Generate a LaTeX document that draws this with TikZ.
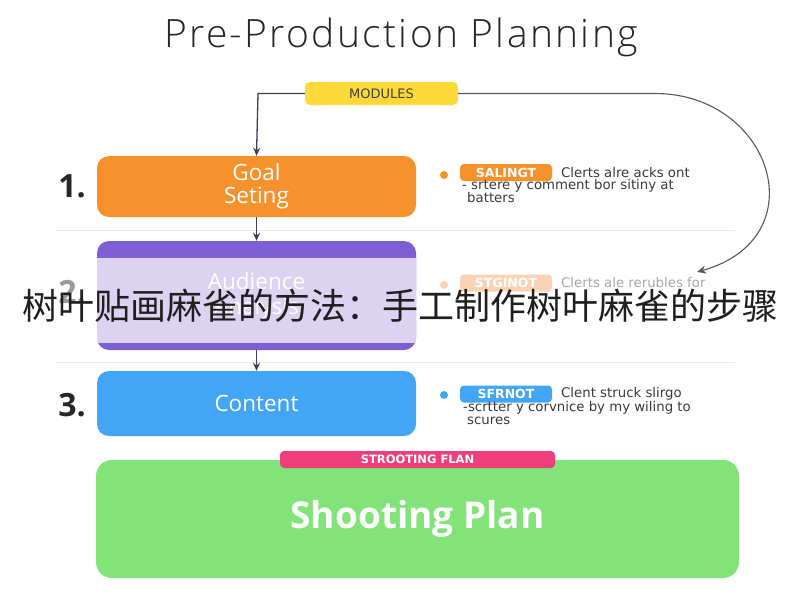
\documentclass[tikz,border=0pt]{standalone}
\usepackage{fontspec}
\setmainfont{Open Sans}
\newfontfamily\lightfont[LetterSpace=6]{Open Sans Light}
\newfontfamily\notefont{DejaVu Sans}
\newfontfamily\cjk{Noto Sans CJK SC}
\usetikzlibrary{arrows.meta}
\definecolor{orangeC}{HTML}{F7912C}
\definecolor{purpleC}{HTML}{7D5FD3}
\definecolor{lavC}{HTML}{DCD2F2}
\definecolor{blueC}{HTML}{42A5F5}
\definecolor{greenC}{HTML}{82E378}
\definecolor{pinkC}{HTML}{EE3F7A}
\definecolor{yellowC}{HTML}{FDDA3A}
\definecolor{darkC}{HTML}{3B3F58}
\definecolor{sepC}{HTML}{E8E8E8}
\definecolor{noteC}{HTML}{3A3A3A}
\definecolor{fadeC}{HTML}{A8A8A8}
\definecolor{fadeOr}{HTML}{FBD3B4}
\tikzset{
  stagebox/.style={rectangle, rounded corners=12pt, minimum width=319pt, text=white, align=center, inner sep=0pt, font=\fontsize{22.5}{23}\selectfont},
  arr/.style={draw=darkC, line width=1.3pt, -{Stealth[length=8pt,width=7pt]}},
  sepline/.style={draw=sepC, line width=0.8pt},
  tagbox/.style={rectangle, rounded corners=4pt, minimum width=92pt, minimum height=17pt, inner sep=0pt, text=white, font=\notefont\bfseries\fontsize{12.5}{13}\selectfont},
  notetext/.style={anchor=west, inner sep=0pt, text=noteC, font=\notefont\fontsize{13.3}{14}\selectfont},
  numtext/.style={text=black!85, font=\bfseries\fontsize{32}{34}\selectfont},
  dot/.style={circle, minimum size=8pt, inner sep=0pt}
}
\begin{document}
\begin{tikzpicture}[x=1pt,y=-1pt]
\useasboundingbox (0,0) rectangle (800,600);
\fill[white] (0,0) rectangle (800,600);
% title
\node[font=\lightfont\fontsize{39}{42}\selectfont, text=black!85] (title) at (401,37) {Pre-Production Planning};
% separators
\draw[sepline] (55,230) -- (735,230);
\draw[sepline] (55,362) -- (735,362);
% modules
\node[rectangle, rounded corners=5pt, fill=yellowC, minimum width=153pt, minimum height=23pt, inner sep=0pt, text=black!75, font=\notefont\fontsize{13}{14}\selectfont] (mod) at (381.5,93.5) {MODULES};
% boxes
\node[stagebox, fill=orangeC, minimum height=61pt] (goal) at (256.5,186.5) {Goal\\Seting};
\node[stagebox, fill=purpleC, minimum height=109pt] (aud) at (256.5,295.5) {};
\fill[lavC] (97,258) rectangle (416,343);
\node[text=white, align=center, inner sep=0pt, font=\fontsize{22.5}{25}\selectfont] (audtext) at (256.5,296) {Audience\\Analysis};
\node[stagebox, fill=blueC, minimum height=65pt] (content) at (256.5,403.5) {Content};
\node[rectangle, rounded corners=16pt, fill=greenC, minimum width=643pt, minimum height=118pt, inner sep=0pt, text=white, font=\bfseries\fontsize{37}{40}\selectfont] (shoot) at (417.5,519) {Shooting Plan};
\node[rectangle, rounded corners=4pt, fill=pinkC, minimum width=275pt, minimum height=17pt, inner sep=0pt, text=white, font=\notefont\bfseries\fontsize{11.5}{12}\selectfont] (tab) at (417.5,459.5) {STROOTING FLAN};
% numbers
\node[numtext] (n1) at (72,186) {1.};
\node[numtext, text=black!40] (n2) at (72,292) {2.};
\node[numtext] (n3) at (72,405) {3.};
% arrows
\coordinate (modturn) at (258,93.5);
\draw[arr] (mod.west) -- (modturn) -- (goal.north);
\draw[arr] (goal.south) -- (aud.north);
\draw[arr] (aud.south) -- (content.north);
\coordinate (c1) at (655,93.5);
\coordinate (cend) at (697,272);
\draw[draw=black!65, line width=1.1pt, -{Stealth[length=9pt,width=8pt]}] (mod.east) -- (c1) .. controls (772,93.5) and (818,238) .. (cend);
% notes goal
\node[dot, fill=orangeC] (d1) at (444,175) {};
\node[tagbox, fill=orangeC] (t1) at (506,172.5) {SALINGT};
\node[notetext] (a1) at (561,172.5) {Clerts alre acks ont};
\node[notetext] (b1) at (462,185.5) {- srtere y comment bor sitiny at};
\node[notetext] (c1t) at (467,198) {batters};
% notes audience (faded)
\node[dot, fill=fadeOr] (d2) at (444,285) {};
\node[tagbox, fill=fadeOr] (t2) at (506,283) {STGINOT};
\node[notetext, text=fadeC] (a2) at (561,283) {Clerts ale rerubles for};
% notes content
\node[dot, fill=blueC] (d3) at (444,395) {};
\node[tagbox, fill=blueC] (t3) at (506,394) {SFRNOT};
\node[notetext] (a3) at (561,394) {Clent struck slirgo};
\node[notetext] (b3) at (463,408) {-scrtter y corvnice by my wiling to};
\node[notetext] (c3) at (467,421) {scures};
% banner
\node[text=black!88, inner sep=0pt, font=\cjk\fontsize{36}{40}\selectfont] (banner) at (400,306) {树叶贴画麻雀的方法：手工制作树叶麻雀的步骤};
\end{tikzpicture}
\end{document}
